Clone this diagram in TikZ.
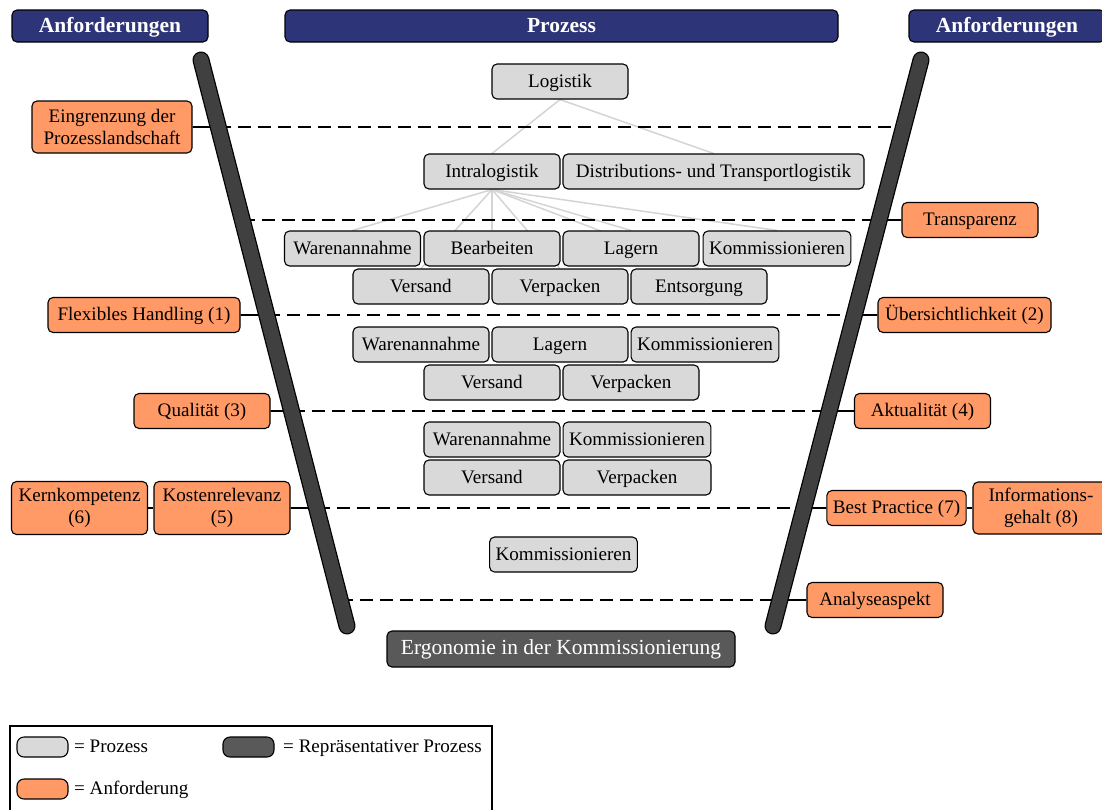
\documentclass[tikz,border=0pt]{standalone}
\usepackage{fontspec}
\setmainfont{Liberation Serif}
\usetikzlibrary{calc,backgrounds}
\definecolor{navy}{RGB}{46,52,120}
\definecolor{procgray}{RGB}{217,217,217}
\definecolor{reqorange}{RGB}{255,153,102}
\definecolor{repdark}{RGB}{89,89,89}
\definecolor{bardark}{RGB}{64,64,64}
\definecolor{treegray}{RGB}{212,212,212}

\begin{document}
\begin{tikzpicture}[x=1pt,y=-1pt,
  every node/.style={font=\fontsize{19.1}{22}\selectfont},
  box/.style={draw, rounded corners=5pt, line width=1.1pt, minimum height=35pt,
    minimum width=136pt, inner xsep=6pt, inner ysep=2pt, align=center,
    text height=14pt, text depth=3pt},
  twoline/.style={text height=, text depth=},
  proc/.style={box, fill=procgray},
  req/.style={box, fill=reqorange},
  rep/.style={box, fill=repdark, text=white, font=\fontsize{21.5}{24}\selectfont},
  head/.style={draw, rounded corners=5pt, line width=1.1pt, fill=navy, text=white,
    minimum height=32pt, text height=15pt, text depth=3pt,
    font=\fontsize{21.5}{24}\selectfont\bfseries},
  swatch/.style={draw, rounded corners=7pt, line width=1.1pt, minimum width=51pt,
    minimum height=20pt, inner sep=0pt},
  legtext/.style={anchor=west, inner sep=0pt, text height=14pt, text depth=3pt},
  tree/.style={treegray, line width=1.5pt},
  level/.style={line width=1.8pt, dash pattern=on 13pt off 7pt},
  link/.style={line width=1.8pt},
  barout/.style={line width=17pt, line cap=round, black},
  barin/.style={line width=14.5pt, line cap=round, bardark},
]
\useasboundingbox (0,0) rectangle (1102,809);
\clip (0,0) rectangle (1102,809);

% column headers
\node[head, minimum width=196pt] (hl) at (110,26) {Anforderungen};
\node[head, minimum width=553pt] (hm) at (561.5,26) {Prozess};
\node[head, minimum width=196pt] (hr) at (1007,26) {Anforderungen};

% process hierarchy
\node[proc] (log) at (560,81.5) {Logistik};
\node[proc] (intra) at (492,171.5) {Intralogistik};
\node[proc, minimum width=301pt] (dist) at (713.5,171.5) {Distributions- und Transportlogistik};

\node[proc] (wa1) at (352.5,248.5) {Warenannahme};
\node[proc] (bea) at (492,248.5) {Bearbeiten};
\node[proc] (lag1) at (631,248.5) {Lagern};
\node[proc] (kom1) at (777,248.5) {Kommissionieren};
\node[proc] (ver1) at (421,286.5) {Versand};
\node[proc] (vp1) at (560,286.5) {Verpacken};
\node[proc] (ent) at (699,286.5) {Entsorgung};

\node[proc] (wa2) at (421,344.5) {Warenannahme};
\node[proc] (lag2) at (560,344.5) {Lagern};
\node[proc] (kom2) at (705,344.5) {Kommissionieren};
\node[proc] (ver2) at (492,382.5) {Versand};
\node[proc] (vp2) at (631,382.5) {Verpacken};

\node[proc] (wa3) at (492,439.5) {Warenannahme};
\node[proc] (kom3) at (637,439.5) {Kommissionieren};
\node[proc] (ver3) at (492,477.5) {Versand};
\node[proc, minimum width=148pt] (vp3) at (637,477.5) {Verpacken};

\node[proc] (kom4) at (563.5,554.5) {Kommissionieren};
\node[rep, minimum width=348pt, minimum height=36pt] (ergo) at (561,649) {Ergonomie in der Kommissionierung};

% requirements, left
\node[req, twoline, minimum width=160pt, minimum height=52pt] (eing) at (112,127) {Eingrenzung der\\Prozesslandschaft};
\node[req, minimum width=192pt] (flex) at (144,315) {Flexibles Handling (1)};
\node[req] (qual) at (202,411) {Qualität (3)};
\node[req, twoline, minimum height=53pt] (kost) at (222,508) {Kostenrelevanz\\(5)};
\node[req, twoline, minimum height=53pt, inner xsep=2pt] (kern) at (79.5,508) {Kernkompetenz\\(6)};

% requirements, right
\node[req] (trans) at (970,220) {Transparenz};
\node[req, minimum width=173pt] (uebers) at (964.5,315) {Übersichtlichkeit (2)};
\node[req] (akt) at (922.5,411) {Aktualität (4)};
\node[req] (best) at (896.5,508) {Best Practice (7)};
\node[req, twoline, minimum height=52pt] (info) at (1041,508) {Informations-\\gehalt (8)};
\node[req] (ana) at (875,600) {Analyseaspekt};

% legend
\draw[line width=1.1pt] (10,726) rectangle (492,815);
\node[swatch, fill=procgray] (lgp) at (42.5,747) {};
\node[legtext] (lgpt) at (74,747) {= Prozess};
\node[swatch, fill=repdark] (lgr) at (248.5,747) {};
\node[legtext] (lgrt) at (283,747) {= Repräsentativer Prozess};
\node[swatch, fill=reqorange] (lga) at (42.5,789) {};
\node[legtext] (lgat) at (74,789) {= Anforderung};

\begin{pgfonlayer}{background}
  % tree connectors
  \draw[tree] (log.south) -- (intra.north);
  \draw[tree] (log.south) -- (dist.north);
  \foreach \t in {wa1,bea,lag1,kom1,ver1,vp1,ent}
    \draw[tree] (intra.south) -- (\t.north);

  % funnel edges
  \coordinate (LT) at (201,60);
  \coordinate (LB) at (347,626);
  \coordinate (RT) at (921,60);
  \coordinate (RB) at (773,626);

  % level separators between the funnel edges
  \foreach \n/\yy in {1/127,2/220,3/315,4/411,5/508,6/600} {
    \coordinate (L\n) at ($(LT)!{(\yy-60)/566}!(LB)$);
    \coordinate (R\n) at ($(RT)!{(\yy-60)/566}!(RB)$);
    \draw[level] (L\n) -- (R\n);
  }

  % requirement links
  \draw[link] (eing) -- (L1);
  \draw[link] (flex) -- (L3);
  \draw[link] (qual) -- (L4);
  \draw[link] (kost) -- (L5);
  \draw[link] (kern) -- (kost);
  \draw[link] (R2) -- (trans);
  \draw[link] (R3) -- (uebers);
  \draw[link] (R4) -- (akt);
  \draw[link] (R5) -- (best);
  \draw[link] (best) -- (info);
  \draw[link] (R6) -- (ana);

  \draw[barout] (LT) -- (LB);
  \draw[barin] (LT) -- (LB);
  \draw[barout] (RT) -- (RB);
  \draw[barin] (RT) -- (RB);
\end{pgfonlayer}
\end{tikzpicture}
\end{document}
